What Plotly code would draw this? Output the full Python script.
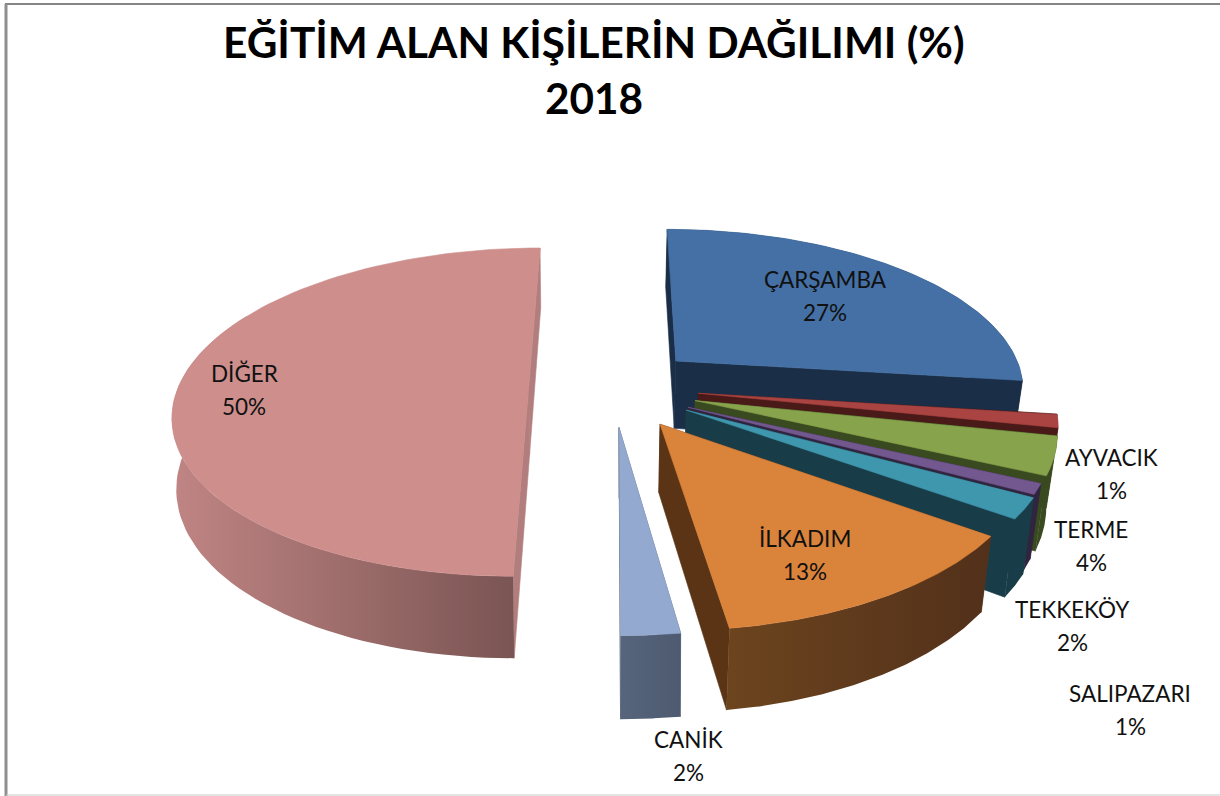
import math
import plotly.graph_objects as go

# ---- data ----
categories = ["ÇARŞAMBA", "AYVACIK", "TERME", "SALIPAZARI", "TEKKEKÖY", "İLKADIM", "CANİK", "DİĞER"]
shares = [27, 1.3, 3.7, 1, 2, 12.8, 2.2, 50]
title_lines = ["EĞİTİM ALAN KİŞİLERİN DAĞILIMI (%)", "2018"]

# ---- styling ----
top_colors = ["#4470a5", "#a94442", "#87a34c", "#72588f", "#3f97ae", "#da833b", "#94a9d0", "#cd8e8c"]
cut_colors = ["#1a2e47", "#4a1a18", "#3a4a20", "#30253f", "#193d48", "#5a3415", "#4d5a70", "#b27e7d"]
wall_colors = [
    ("#1a2e47", "#1a2e47"), ("#4a1a18", "#4a1a18"), ("#3a4a20", "#3a4a20"), ("#30253f", "#30253f"),
    ("#193d48", "#193d48"), ("#6c441e", "#52301a"), ("#57657c", "#4d5a70"), ("#c08584", "#7a5553"),
]
explode_x = [0.19, 0.248, 0.237, 0.215, 0.21, 0.135, 0.022, -0.235]
explode_y = [0.16, -0.045, -0.09, -0.13, -0.147, -0.23, -0.25, 0.0]
depths = [69, 69, 69, 69, 69, 66, 67, 69]
wall_shrink = [0.975, 0.975, 0.975, 0.975, 0.975, 0.975, 0.995, 0.99]
label_xy = [(825, 295.5), (1111, 473.5), (1091, 545.5), (1130, 709.5), (1072, 625.5), (805, 554.5), (688, 755.5), (244, 389.5)]

VX, VY, BASE, K, A = 611.0, -620.0, 1006.0, 0.159, 350.0
N = 90


def project(px, py, depth=0.0, shrink=1.0):
    w = 1.0 / (1.0 + K * py)
    sx = VX + A * px * w
    sy = VY + BASE * w
    if depth:
        sx = VX + (sx - VX) * shrink
        sy += depth * w
    return sx, sy


def polygon(xs, ys, color, gradient=None):
    kw = dict(x=xs, y=ys, mode="lines", fill="toself", hoverinfo="skip", showlegend=False,
              line=dict(color=color, width=0.6))
    if gradient:
        kw["fillgradient"] = dict(type="horizontal", colorscale=[[0, gradient[0]], [1, gradient[1]]])
        kw["line"] = dict(width=0)
    else:
        kw["fillcolor"] = color
    return go.Scatter(**kw)


fig = go.Figure()
total = sum(shares)
edges = [0.0]
for v in shares:
    edges.append(edges[-1] + v / total * 2 * math.pi)

order = [7, 0, 1, 2, 3, 4, 5, 6]
for i in order:
    t0, t1 = edges[i], edges[i + 1]
    ex, ey, d, sh = explode_x[i], explode_y[i], depths[i], wall_shrink[i]
    ts = [t0 + (t1 - t0) * n / N for n in range(N + 1)]
    rim = [(ex + math.sin(t), ey + math.cos(t)) for t in ts]
    hi = [project(a, b) for a, b in rim]
    lo = [project(a, b, d, sh) for a, b in rim]
    c_hi, c_lo = project(ex, ey), project(ex, ey, d, sh)
    # two cut faces
    for end in (0, -1):
        fx = [c_hi[0], hi[end][0], lo[end][0], c_lo[0], c_hi[0]]
        fy = [c_hi[1], hi[end][1], lo[end][1], c_lo[1], c_hi[1]]
        fig.add_trace(polygon(fx, fy, cut_colors[i]))
    # outer wall: the far part of the rim stays hidden behind the top face
    keep = [n for n in range(N + 1) if rim[n][1] < ey + 0.5 or i == 0]
    wx = [hi[n][0] for n in keep] + [lo[n][0] for n in reversed(keep)]
    wy = [hi[n][1] for n in keep] + [lo[n][1] for n in reversed(keep)]
    fig.add_trace(polygon(wx + wx[:1], wy + wy[:1], wall_colors[i][0], gradient=wall_colors[i]))
    # top face
    tx = [c_hi[0]] + [p[0] for p in hi] + [c_hi[0]]
    ty = [c_hi[1]] + [p[1] for p in hi] + [c_hi[1]]
    fig.add_trace(polygon(tx, ty, top_colors[i]))

LABEL_FONT = dict(family="Lato, sans-serif", size=22.5, color="#111111")
annotations = []
for name, v, (lx, ly) in zip(categories, shares, label_xy):
    annotations.append(dict(x=lx, y=ly - 16.5, xref="x", yref="y", text=name, showarrow=False, font=LABEL_FONT))
    annotations.append(dict(x=lx, y=ly + 16.5, xref="x", yref="y", text=f"{round(v)}%", showarrow=False, font=LABEL_FONT))
for s, ty in zip(title_lines, (41, 97)):
    annotations.append(dict(x=594, y=ty, xref="x", yref="y", text=f"<b>{s}</b>", showarrow=False,
                            font=dict(family="Lato, sans-serif", size=42.3, color="#000000")))

fig.update_layout(
    width=1220, height=796, margin=dict(l=0, r=0, t=0, b=0),
    paper_bgcolor="white", plot_bgcolor="white", showlegend=False,
    xaxis=dict(range=[0, 1220], visible=False, fixedrange=True),
    yaxis=dict(range=[796, 0], visible=False, fixedrange=True),
    annotations=annotations,
    shapes=[
        dict(type="line", x0=5, x1=1220, y0=4, y1=4, xref="x", yref="y", line=dict(color="#858585", width=2)),
        dict(type="line", x0=6, x1=6, y0=4, y1=796, xref="x", yref="y", line=dict(color="#8f8f8f", width=3)),
        dict(type="line", x0=6, x1=1220, y0=795, y1=795, xref="x", yref="y", line=dict(color="#c8c8c8", width=1)),
    ],
)

fig.write_html("out.html", config=dict(displayModeBar=False),
               post_script="document.body.style.margin='0';document.body.style.overflow='hidden';")
